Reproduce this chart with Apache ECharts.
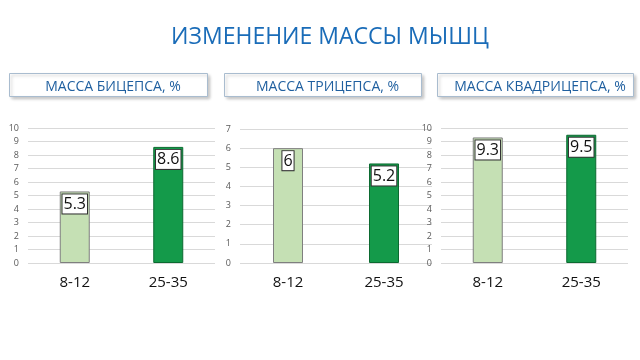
<!DOCTYPE html>
<html>
<head>
<meta charset="utf-8">
<script src="https://cdn.jsdelivr.net/npm/echarts@6/dist/echarts.min.js"></script>
<style>html,body{margin:0;padding:0;background:#fff;}#c{width:640px;height:360px;}</style>
</head>
<body>
<div id="c"></div>
<script>
const mainTitle = 'ИЗМЕНЕНИЕ МАССЫ МЫШЦ';
const panelTitles = ['МАССА БИЦЕПСА, %', 'МАССА ТРИЦЕПСА, %', 'МАССА КВАДРИЦЕПСА, %'];
const categories = ['8-12', '25-35'];
const bicepsValues = [5.3, 8.6];
const tricepsValues = [6, 5.2];
const quadricepsValues = [9.3, 9.5];
const yMax = [10, 7, 10];

const chart = echarts.init(document.getElementById('c'), null, {renderer: 'canvas'});
const FONT = '"Open Sans", "Noto Sans", sans-serif';
const lightStyle = {color: '#c5e0b4', borderColor: '#7f7f7f', borderWidth: 1};
const darkStyle = {color: '#149a4a', borderColor: '#0b6a30', borderWidth: 1};

const grids = [
  {left: 28, width: 187, top: 128, bottom: 97},
  {left: 240, width: 192, top: 129, bottom: 97},
  {left: 441, width: 187, top: 128, bottom: 97}
];
const boxes = [[9, 198], [224, 197], [437, 196]];
const allValues = [bicepsValues, tricepsValues, quadricepsValues];

const option = {
  backgroundColor: '#fff',
  animation: false,
  title: [
    {text: mainTitle, left: 325, top: 21, textAlign: 'center',
     textStyle: {fontFamily: FONT, fontSize: 23, fontWeight: 'normal', color: '#1a6cb8'}}
  ].concat(panelTitles.map((t, i) => ({
    text: t, left: boxes[i][0] + boxes[i][1] / 2, top: 75, textAlign: 'center', z: 10,
    textStyle: {fontFamily: FONT, fontSize: 14, fontWeight: 'normal', color: '#1f5f9f'}
  }))),
  graphic: boxes.map(b => ({
    type: 'rect', left: b[0], top: 73, z: 1,
    shape: {width: b[1], height: 23},
    style: {fill: '#fff', stroke: '#a9bccf', lineWidth: 1,
            shadowBlur: 3, shadowOffsetX: 2, shadowOffsetY: 2, shadowColor: 'rgba(0,0,0,0.22)'}
  })),
  grid: grids,
  xAxis: grids.map((g, i) => ({
    type: 'category', gridIndex: i, data: categories,
    axisLine: {show: false}, axisTick: {show: false},
    axisLabel: {fontFamily: FONT, fontSize: 15, color: '#111', margin: 12}
  })),
  yAxis: grids.map((g, i) => ({
    type: 'value', gridIndex: i, min: 0, max: yMax[i], interval: 1,
    axisLine: {show: false}, axisTick: {show: false},
    axisLabel: {fontFamily: FONT, fontSize: 9, color: '#595959', margin: 9},
    splitLine: {lineStyle: {color: '#d9d9d9', width: 1}}
  })),
  series: allValues.map((vals, i) => ({
    type: 'bar', xAxisIndex: i, yAxisIndex: i, barWidth: 30,
    data: vals.map((v, j) => ({value: v, itemStyle: j === 0 ? lightStyle : darkStyle})),
    label: {
      show: true, position: 'insideTop', distance: 3,
      fontFamily: FONT, fontSize: 16, color: '#111',
      backgroundColor: '#fff', borderColor: '#333', borderWidth: 1,
      padding: [2, 1, 1, 1]
    }
  }))
};
chart.setOption(option);
</script>
</body>
</html>
